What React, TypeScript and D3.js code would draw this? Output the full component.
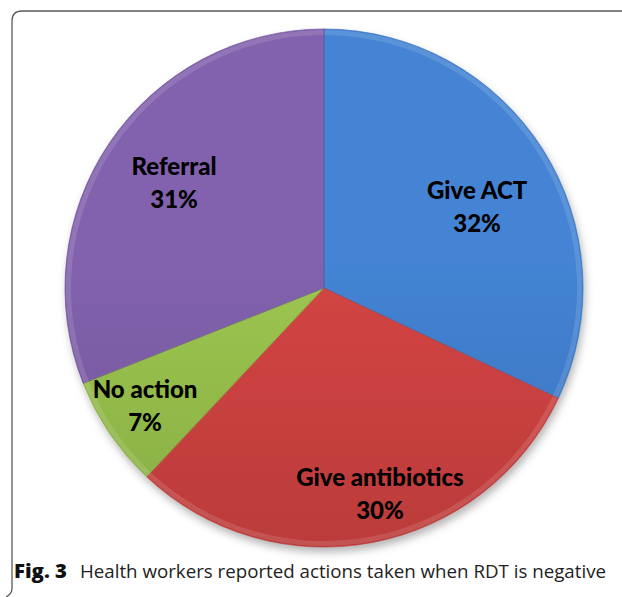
import React, { useEffect, useRef } from 'react';
import * as d3 from 'd3';

// slices clockwise from 12 o'clock
const categories = ['Give ACT', 'Give antibiotics', 'No action', 'Referral'];
const shares = [32, 30, 7, 31];
const sliceColors = ['#4484d4', '#d44544', '#9dc651', '#8262ae'];
const sliceDark = ['#3a71bb', '#bb3b3a', '#87ad42', '#6f5398'];
// nudges for the data labels (px) relative to the centroid at 0.7r
const labelNudge: [number, number][] = [[0, 16], [22, 28], [-29, 16], [0, -3]];

const W = 622;
const H = 597;

export default function App() {
  const ref = useRef<SVGSVGElement>(null);

  useEffect(() => {
    const svg = d3.select(ref.current);
    svg.selectAll('*').remove();

    const cx = 324, cy = 288, r = 259;

    const defs = svg.append('defs');
    const shadow = defs.append('filter').attr('id', 'shadow')
      .attr('x', '-10%').attr('y', '-10%').attr('width', '125%').attr('height', '125%');
    shadow.append('feDropShadow').attr('dx', 2).attr('dy', 5).attr('stdDeviation', 4)
      .attr('flood-color', '#000').attr('flood-opacity', 0.3);

    categories.forEach((c, i) => {
      const g = defs.append('linearGradient').attr('id', 'grad' + i)
        .attr('gradientUnits', 'userSpaceOnUse')
        .attr('x1', 0).attr('y1', -r).attr('x2', 0).attr('y2', r);
      g.append('stop').attr('offset', '0%').attr('stop-color', sliceColors[i]);
      g.append('stop').attr('offset', '45%').attr('stop-color', sliceColors[i]);
      g.append('stop').attr('offset', '100%').attr('stop-color', sliceDark[i]);
    });

    // frame
    svg.append('path')
      .attr('d', `M${W},11 L22,11 Q12,11 12,21 L12,588 Q12,594 6,${H}`)
      .attr('fill', 'none').attr('stroke', '#5a5a5a').attr('stroke-width', 1.3);

    const pie = d3.pie<number>().sort(null).value(d => d);
    const arcs = pie(shares);
    const arc = d3.arc<d3.PieArcDatum<number>>().innerRadius(0).outerRadius(r);
    const rim = d3.arc<d3.PieArcDatum<number>>().innerRadius(r - 6).outerRadius(r - 1);
    const labelArc = d3.arc<d3.PieArcDatum<number>>().innerRadius(r * 0.7).outerRadius(r * 0.7);

    const g = svg.append('g').attr('transform', `translate(${cx},${cy})`);

    g.append('g').attr('filter', 'url(#shadow)')
      .selectAll('path').data(arcs).join('path')
      .attr('d', arc)
      .attr('fill', (d, i) => `url(#grad${i})`);

    // bevel highlight along rim
    g.selectAll('path.rim').data(arcs).join('path')
      .attr('class', 'rim')
      .attr('d', rim)
      .attr('fill', '#fff').attr('opacity', 0.12);

    // slice edges
    g.selectAll('path.edge').data(arcs).join('path')
      .attr('class', 'edge')
      .attr('d', arc)
      .attr('fill', 'none')
      .attr('stroke', (d, i) => sliceDark[i])
      .attr('stroke-opacity', 0.7)
      .attr('stroke-width', 1);

    const labels = g.selectAll('text.lbl').data(arcs).join('text')
      .attr('class', 'lbl')
      .attr('transform', (d, i) => {
        const [x, y] = labelArc.centroid(d);
        return `translate(${x + labelNudge[i][0]},${y + labelNudge[i][1]})`;
      })
      .attr('text-anchor', 'middle')
      .style('font-family', 'Lato, "Open Sans", sans-serif')
      .style('font-weight', 900)
      .style('font-size', '24px')
      .attr('fill', '#000');
    labels.append('tspan').attr('x', 0).attr('y', -8).text((d, i) => categories[i]);
    labels.append('tspan').attr('x', 0).attr('y', 25).text(d => `${d.data}%`);

    // caption
    const cap = svg.append('text').attr('x', 14).attr('y', 578)
      .style('font-family', '"Open Sans", "Noto Sans", sans-serif')
      .style('font-size', '18.5px').attr('fill', '#222');
    cap.append('tspan').style('font-weight', 800).attr('fill', '#111')
      .attr('textLength', 53).attr('lengthAdjust', 'spacingAndGlyphs').text('Fig. 3');
    cap.append('tspan').attr('x', 80).attr('textLength', 526).attr('lengthAdjust', 'spacingAndGlyphs')
      .text('Health workers reported actions taken when RDT is negative');
  }, []);

  return (
    <svg ref={ref} width={W} height={H}
      style={{ position: 'absolute', left: 0, top: 0, background: '#fff' }} />
  );
}
